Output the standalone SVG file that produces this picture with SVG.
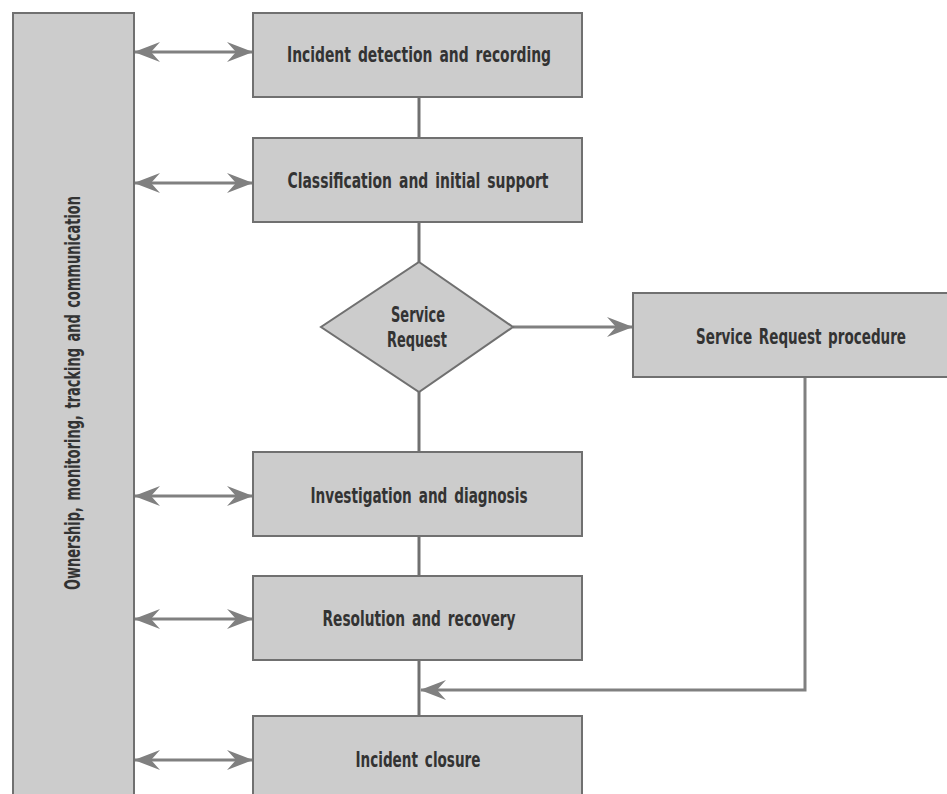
<svg xmlns="http://www.w3.org/2000/svg" width="947" height="794" viewBox="0 0 947 794">
<style>
.box{fill:#cccccc;stroke:#707070;stroke-width:2}
.t{font-family:"DejaVu Sans Condensed","Liberation Sans",sans-serif;font-size:21px;font-weight:bold;fill:#333333;text-anchor:middle;word-spacing:3px}
.ln{stroke:#707070;stroke-width:3;fill:none}
.ar{stroke:#808080;stroke-width:3;fill:none}
</style>
<defs>
<marker id="ah" viewBox="0 0 26 20" refX="25" refY="10" markerWidth="26" markerHeight="20" markerUnits="userSpaceOnUse" orient="auto-start-reverse">
<path d="M0,0 L26,10 L0,20 L9,10 Z" fill="#808080"/>
</marker>
</defs>
<g id="connectors">
<line class="ln" x1="419" y1="97" x2="419" y2="138"/>
<line class="ln" x1="419" y1="222" x2="419" y2="262"/>
<line class="ln" x1="419" y1="392" x2="419" y2="452"/>
<line class="ln" x1="419" y1="536" x2="419" y2="576"/>
<line class="ln" x1="419" y1="660" x2="419" y2="716"/>
<line class="ar" x1="513" y1="327" x2="632" y2="327" marker-end="url(#ah)"/>
<polyline class="ar" points="805,378 805,690 421,690" marker-end="url(#ah)"/>
<line class="ar" x1="135" y1="52" x2="252" y2="52" marker-start="url(#ah)" marker-end="url(#ah)"/>
<line class="ar" x1="135" y1="183" x2="252" y2="183" marker-start="url(#ah)" marker-end="url(#ah)"/>
<line class="ar" x1="135" y1="496" x2="252" y2="496" marker-start="url(#ah)" marker-end="url(#ah)"/>
<line class="ar" x1="135" y1="619" x2="252" y2="619" marker-start="url(#ah)" marker-end="url(#ah)"/>
<line class="ar" x1="135" y1="760" x2="252" y2="760" marker-start="url(#ah)" marker-end="url(#ah)"/>
</g>
<g id="ownership">
<rect class="box" x="13" y="13" width="121" height="800"/>
<text class="t" transform="translate(80,393) rotate(-90)" textLength="394" lengthAdjust="spacingAndGlyphs">Ownership, monitoring, tracking and communication</text>
</g>
<g id="detection">
<rect class="box" x="253" y="13" width="329" height="84"/>
<text class="t" x="419" y="62" textLength="264" lengthAdjust="spacingAndGlyphs">Incident detection and recording</text>
</g>
<g id="classification">
<rect class="box" x="253" y="138" width="329" height="84"/>
<text class="t" x="418" y="188" textLength="261" lengthAdjust="spacingAndGlyphs">Classification and initial support</text>
</g>
<g id="service-request">
<polygon class="box" points="419,262 513,327 419,392 321,327"/>
<text class="t" x="418" y="322" textLength="54" lengthAdjust="spacingAndGlyphs">Service</text>
<text class="t" x="417" y="347" textLength="60" lengthAdjust="spacingAndGlyphs">Request</text>
</g>
<g id="sr-procedure">
<rect class="box" x="633" y="293" width="316" height="84"/>
<text class="t" transform="translate(801,344) scale(1,1.4)" style="font-size:15px;word-spacing:2px" textLength="210" lengthAdjust="spacingAndGlyphs">Service Request procedure</text>
</g>
<g id="investigation">
<rect class="box" x="253" y="452" width="329" height="84"/>
<text class="t" x="419" y="503" textLength="217" lengthAdjust="spacingAndGlyphs">Investigation and diagnosis</text>
</g>
<g id="resolution">
<rect class="box" x="253" y="576" width="329" height="84"/>
<text class="t" x="419" y="626" textLength="193" lengthAdjust="spacingAndGlyphs">Resolution and recovery</text>
</g>
<g id="closure">
<rect class="box" x="253" y="716" width="329" height="100"/>
<text class="t" x="418" y="767" textLength="125" lengthAdjust="spacingAndGlyphs">Incident closure</text>
</g>
</svg>
